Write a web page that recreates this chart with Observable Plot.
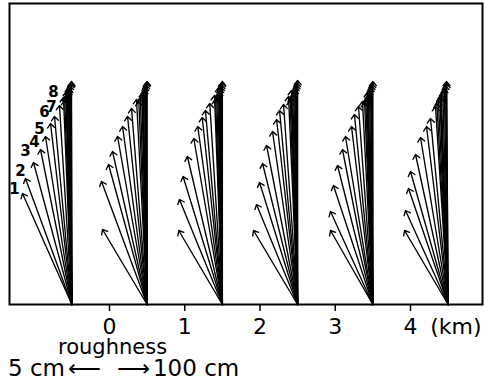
<!DOCTYPE html>
<html>
<head>
<meta charset="utf-8">
<script src="https://cdn.jsdelivr.net/npm/d3@7"></script>
<script src="https://cdn.jsdelivr.net/npm/@observablehq/plot@0.6"></script>
<style>
  html, body { margin: 0; padding: 0; background: white; }
  #wrap { position: relative; width: 484px; height: 380px; font-family: "DejaVu Sans", sans-serif; color: black; }
  #legend { position: absolute; left: 0; top: 337px; }
  #rough { margin-left: 58px; font-size: 21px; line-height: 20px; }
  #scale { margin-left: 8px; font-size: 23px; line-height: 23px; white-space: nowrap; }
  #scale .la { margin-left: 3px; }
  #scale .ra { margin-left: 16px; margin-right: 3px; }
</style>
</head>
<body>
<div id="wrap">
  <div id="chart"></div>
  <div id="legend">
    <div id="rough">roughness</div>
    <div id="scale">5 cm<span class="la">⟵</span><span class="ra">⟶</span>100 cm</div>
  </div>
</div>
<script>
// Fan origins (km along the x axis)
const fanOrigins = [-0.5, 0.5, 1.5, 2.5, 3.5, 4.5];

// Visible arrow tips per fan: horizontal offset from origin (km) and height (chart units)
const tipDx = [
  [-0.656, -0.617, -0.510, -0.417, -0.351, -0.284, -0.231, -0.165, -0.112, -0.072, -0.045, -0.005],
  [-0.593, -0.606, -0.513, -0.460, -0.393, -0.327, -0.260, -0.207, -0.141, -0.061, 0.0],
  [-0.580, -0.570, -0.522, -0.465, -0.380, -0.327, -0.268, -0.225, -0.168, -0.105, -0.048, 0.0],
  [-0.586, -0.546, -0.506, -0.466, -0.413, -0.334, -0.280, -0.240, -0.187, -0.121, -0.081, 0.0],
  [-0.563, -0.563, -0.524, -0.470, -0.404, -0.364, -0.284, -0.245, -0.191, -0.138, -0.072, 0.0],
  [-0.579, -0.566, -0.526, -0.500, -0.433, -0.367, -0.287, -0.234, -0.168, -0.101, -0.021]
];
const tipH = [
  [111, 126, 142, 155, 168, 181, 188, 199, 207, 213, 217, 223],
  [75, 123, 140, 153, 168, 178, 188, 196, 205, 212, 223],
  [74, 105, 128, 148, 166, 178, 187, 194, 201, 209, 217, 223],
  [74, 100, 122, 141, 159, 173, 185, 194, 200, 208, 214, 224],
  [74, 93, 119, 139, 155, 168, 178, 190, 198, 203, 212, 223],
  [74, 94, 116, 133, 150, 167, 178, 186, 198, 208, 223]
];

// Densely packed, nearly vertical arrows (forming the dark wedge)
const denseDx = [
  [-0.095, -0.080, -0.060, -0.045, -0.035, -0.025, -0.015, -0.008],
  [-0.110, -0.090, -0.070, -0.050, -0.035, -0.025, -0.015, -0.008],
  [-0.090, -0.075, -0.060, -0.040, -0.030, -0.020, -0.012, -0.006],
  [-0.100, -0.085, -0.065, -0.050, -0.035, -0.025, -0.015, -0.008],
  [-0.110, -0.095, -0.080, -0.060, -0.045, -0.030, -0.018, -0.008],
  [-0.150, -0.130, -0.110, -0.090, -0.070, -0.050, -0.035, -0.020]
];
const denseH = [
  [204, 208, 211, 214, 216, 219, 221, 222],
  [203, 206, 209, 212, 215, 218, 220, 222],
  [205, 207, 210, 213, 216, 218, 220, 222],
  [204, 207, 210, 212, 215, 218, 220, 222],
  [202, 205, 207, 210, 214, 217, 219, 221],
  [201, 204, 207, 210, 213, 216, 219, 221]
];

// Height-level labels on the first fan
const levelLabels = ["1", "2", "3", "4", "5", "6", "7", "8"];
const labelShiftX = [-8, -5, -8, -6, -6, -6, -3, -6];
const labelShiftY = [-4, -7, -11, -7, -7, -11, -9, -13];

const xTicks = [0, 1, 2, 3, 4];

const arrows = [];
fanOrigins.forEach((o, i) => {
  tipDx[i].forEach((d, j) => arrows.push({x1: o, y1: 0, x2: o + d, y2: tipH[i][j]}));
  denseDx[i].forEach((d, j) => arrows.push({x1: o, y1: 0, x2: o + d, y2: denseH[i][j]}));
});
const labelRows = levelLabels.map((t, j) => ({
  text: t, x: fanOrigins[0] + tipDx[0][j], y: tipH[0][j], sx: labelShiftX[j], sy: labelShiftY[j]
}));

const chart = Plot.plot({
  width: 484,
  height: 340,
  marginLeft: 9,
  marginRight: 2,
  marginTop: 3,
  marginBottom: 36,
  style: {fontFamily: "DejaVu Sans", color: "black", background: "white", overflow: "visible"},
  x: {domain: [-1.329, 4.957]},
  y: {domain: [0, 301], axis: null},
  marks: [
    Plot.arrow(arrows, {x1: "x1", y1: "y1", x2: "x2", y2: "y2", stroke: "black", strokeWidth: 1.35, headLength: 6, headAngle: 80}),
    ...labelRows.map(r => Plot.text([r], {x: "x", y: "y", text: "text", dx: r.sx, dy: r.sy, fontSize: 15, fontWeight: "bold", fill: "black"})),
    Plot.frame({stroke: "black", strokeWidth: 2}),
    Plot.axisX({ticks: xTicks, tickSize: 7, tickPadding: 7, fontSize: 22, tickFormat: d => String(d),
      label: "(km)", labelAnchor: "right", labelArrow: "none", labelOffset: 29, strokeWidth: 1.5})
  ]
});
document.getElementById("chart").appendChild(chart);
</script>
</body>
</html>
